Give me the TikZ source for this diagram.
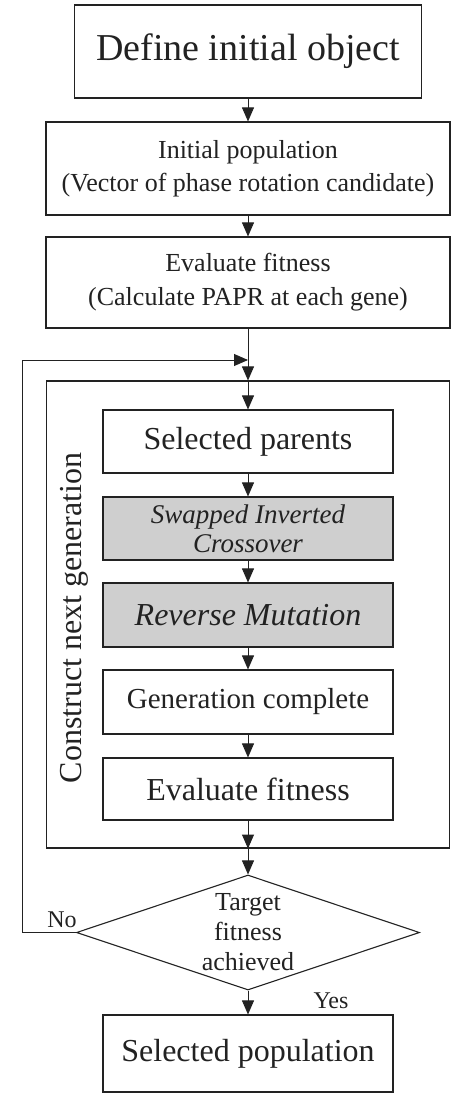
\documentclass[tikz,border=0pt]{standalone}
\usepackage{fontspec}
\setmainfont{Liberation Serif}
\usetikzlibrary{arrows.meta,shapes.geometric}
\definecolor{ink}{HTML}{222222}
\definecolor{boxgray}{HTML}{CFCFCF}
\begin{document}
\begin{tikzpicture}[x=1pt,y=-1pt,
  box/.style={draw=ink,line width=1.1pt,fill=white,inner sep=0pt,align=center,text=ink},
  graybox/.style={box,fill=boxgray},
  arr/.style={draw=ink,line width=0.9pt,-{Triangle[width=12pt,length=14pt]}},
  fs/.style 2 args={font=\fontsize{#1}{#2}\selectfont}
]
\useasboundingbox (0,0) rectangle (454,1094);
% main boxes
\node[box,fs={38}{44},minimum width=347pt,minimum height=93pt] (b1) at (248,51.5) {Define initial object};
\node[box,fs={26}{33},minimum width=404pt,minimum height=93pt] (b2) at (248,168.5)
  {Initial population\\ (Vector of phase rotation candidate)};
\node[box,fs={26}{34},minimum width=404pt,minimum height=91pt] (b3) at (248,282.5)
  {Evaluate fitness\\ (Calculate PAPR at each gene)};
% frame
\node[draw=ink,line width=1.1pt,minimum width=403pt,minimum height=467pt,inner sep=0pt] (frame) at (248,614.5) {};
\node[fs={32}{36},text=ink,rotate=90] (lab) at (74,618) {Construct next generation};
% inner boxes
\node[box,fs={32}{36},minimum width=290pt,minimum height=63pt] (sp) at (248,441.5) {Selected parents};
\node[graybox,fs={27}{29},minimum width=290pt,minimum height=63pt] (sw) at (248,528.5)
  {\itshape Swapped Inverted\\ \itshape Crossover};
\node[graybox,fs={32}{36},minimum width=290pt,minimum height=64pt] (rm) at (248,615) {\itshape Reverse Mutation};
\node[box,fs={29}{34},minimum width=290pt,minimum height=64pt] (gc) at (248,702) {Generation complete};
\node[box,fs={32}{36},minimum width=290pt,minimum height=62pt] (ef) at (248,789) {Evaluate fitness};
% decision
\node[draw=ink,line width=1.1pt,diamond,minimum width=343pt,minimum height=115pt,inner sep=0pt,
  fill=white] (dec) at (248,932.5) {};
\node[fs={26}{30},align=center,text=ink] (dectext) at (248,932.5) {Target\\ fitness\\ achieved};
\node[box,fs={32}{36},minimum width=290pt,minimum height=77pt] (spop) at (248,1053.5) {Selected population};
% connectors
\draw[arr] (b1) -- (b2);
\draw[arr] (b2) -- (b3);
\draw[arr] (b3) -- (frame.north);
\draw[arr] (frame.north) -- (sp);
\draw[arr] (sp) -- (sw);
\draw[arr] (sw) -- (rm);
\draw[arr] (rm) -- (gc);
\draw[arr] (gc) -- (ef);
\draw[arr] (ef) -- (frame.south);
\draw[arr] (frame.south) -- (dec.north);
\draw[arr] (dec.south) -- (spop);
\coordinate (join) at (248,360);
\coordinate (loopc) at (22,360);
\draw[arr] (dec.west) -| (loopc) -- (join);
\node[fs={24}{28},text=ink] (no) at (62,920) {No};
\node[fs={24}{28},text=ink] (yes) at (331,1001) {Yes};
\end{tikzpicture}
\end{document}
